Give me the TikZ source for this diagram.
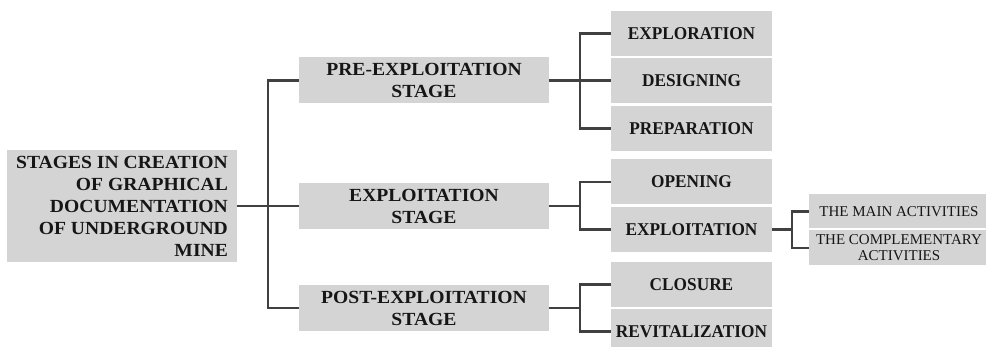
\documentclass[tikz,border=0pt]{standalone}
\usepackage{fontspec}
\setmainfont{Liberation Serif}
\newfontfamily\widefont[FakeStretch=1.06]{Liberation Serif}
\newfontfamily\narrowfont[FakeStretch=0.96]{Liberation Serif}
\usepackage{tikz}
\usetikzlibrary{positioning,calc}
\definecolor{boxgray}{RGB}{212,212,212}
\definecolor{linegray}{RGB}{64,64,64}
\definecolor{txtgray}{RGB}{22,22,22}
\tikzset{
  rootbox/.style={fill=boxgray,text=txtgray,align=right,minimum width=230pt,minimum height=112pt,
    inner sep=0pt,font=\widefont\fontsize{18.5}{22}\selectfont\bfseries},
  stagebox/.style={fill=boxgray,text=txtgray,align=center,minimum width=250pt,minimum height=46pt,
    inner sep=0pt,font=\widefont\fontsize{18.5}{22}\selectfont\bfseries},
  subbox/.style={fill=boxgray,text=txtgray,align=center,minimum width=161pt,minimum height=45pt,
    inner sep=0pt,font=\narrowfont\fontsize{18}{20}\selectfont\bfseries},
  actbox/.style={fill=boxgray,text=txtgray,align=center,minimum width=180pt,minimum height=34pt,
    inner sep=0pt,font=\fontsize{15}{16}\selectfont},
  link/.style={draw=linegray,line width=2.4pt}
}
\begin{document}
\begin{tikzpicture}[x=1pt,y=-1pt]
		\useasboundingbox[fill=white] (0,0) rectangle (986,347);
		%\draw (0,0) grid[step=50] (986,347);
		\node[rootbox] (root) at (122,206) {STAGES IN CREATION\\OF GRAPHICAL\\DOCUMENTATION\\OF UNDERGROUND\\MINE};
		\node[stagebox] (pre) at (424,80.5) {PRE-EXPLOITATION\\STAGE};
		\node[stagebox] (expl) at (424,206) {EXPLOITATION\\STAGE};
		\node[stagebox] (post) at (424,308) {POST-EXPLOITATION\\STAGE};
		\node[subbox] (exploration) at (691.5,33.5) {EXPLORATION};
		\node[subbox] (designing) at (691.5,80.5) {DESIGNING};
		\node[subbox] (preparation) at (691.5,128.5) {PREPARATION};
		\node[subbox] (opening) at (691.5,182) {OPENING};
		\node[subbox] (exploitation) at (691.5,229.5) {EXPLOITATION};
		\node[subbox] (closure) at (691.5,284.5) {CLOSURE};
		\node[subbox] (revitalization) at (691.5,331.5) {REVITALIZATION};
		\node[actbox] (mainact) at (899,211.5) {THE MAIN ACTIVITIES};
		\node[actbox,minimum height=35pt] (complact) at (899,248) {THE COMPLEMENTARY\\ACTIVITIES};
		% trunk
		\draw[link] (root.east) -- (expl.west);
		\draw[link] (pre.west) -- ++(-31,0) |- (post.west);
		% pre-exploitation
		\draw[link] (pre.east) -- (designing.west);
		\draw[link] (exploration.west) -- ++(-31,0) |- (preparation.west);
		% exploitation
		\draw[link] (expl.east) -- ++(31,0);
		\draw[link] (opening.west) -- ++(-31,0) |- (exploitation.west);
		\draw[link] (exploitation.east) -- ++(20,0);
		\draw[link] (mainact.west) -- ++(-17,0) |- (complact.west);
		% post-exploitation
		\draw[link] (post.east) -- ++(31,0);
		\draw[link] (closure.west) -- ++(-31,0) |- (revitalization.west);
	\end{tikzpicture}
\end{document}
